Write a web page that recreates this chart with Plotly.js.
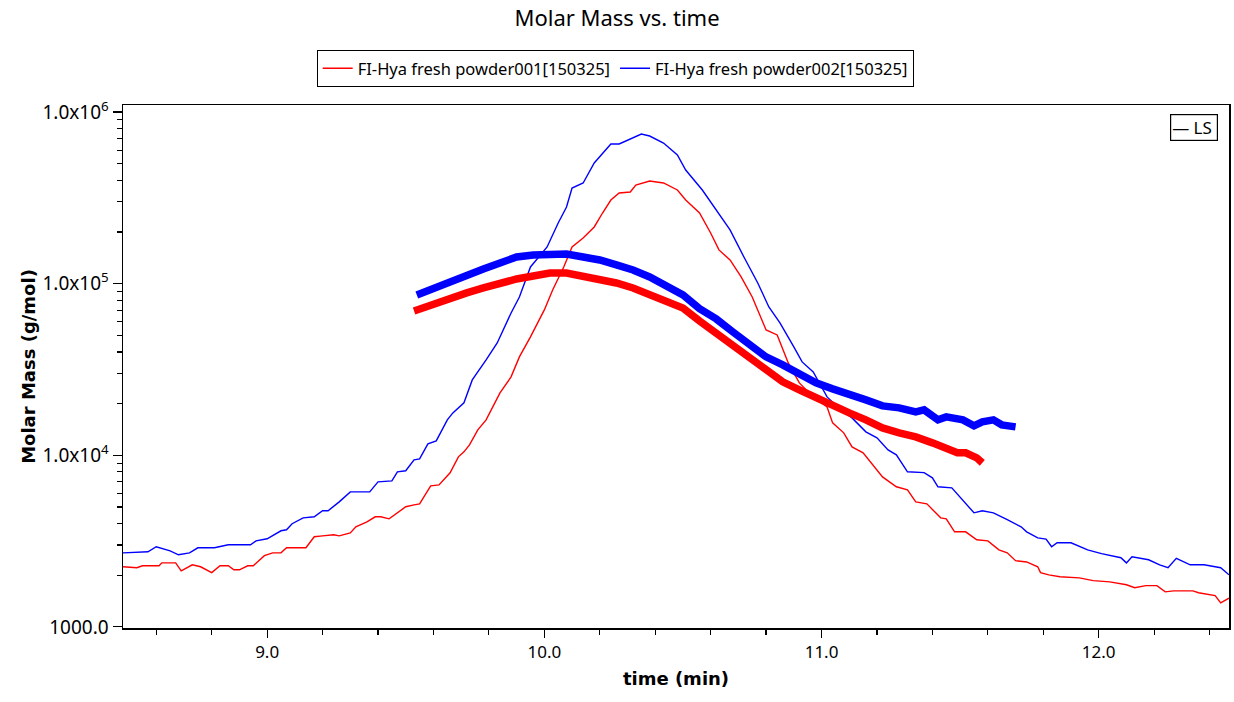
<!DOCTYPE html>
<html>
<head>
<meta charset="utf-8">
<script src="https://cdn.plot.ly/plotly-3.0.1.min.js"></script>
<style>html,body{margin:0;padding:0;background:#fff;}#chart{width:1234px;height:702px;}</style>
</head>
<body>
<div id="chart"></div>
<script>
// ---- Data (time in min, molar mass / LS signal on the g/mol log axis) ----
const seriesNames = ["FI-Hya fresh powder001[150325]", "FI-Hya fresh powder002[150325]"];

// LS detector trace, sample 001 (red, thin)
const lsTime001 = [8.48,8.53,8.55,8.61,8.62,8.67,8.69,8.73,8.76,8.80,8.83,8.86,8.88,8.90,8.93,8.95,8.99,9.02,9.05,9.07,9.14,9.17,9.20,9.24,9.26,9.30,9.32,9.36,9.39,9.41,9.44,9.47,9.50,9.53,9.55,9.59,9.62,9.66,9.69,9.71,9.73,9.76,9.79,9.84,9.88,9.91,9.95,10.00,10.03,10.07,10.10,10.14,10.18,10.21,10.24,10.27,10.31,10.33,10.38,10.43,10.48,10.51,10.56,10.60,10.63,10.67,10.71,10.75,10.78,10.80,10.84,10.88,10.92,10.97,11.02,11.04,11.08,11.11,11.15,11.19,11.22,11.27,11.31,11.34,11.38,11.43,11.45,11.48,11.52,11.56,11.60,11.64,11.67,11.70,11.74,11.78,11.79,11.82,11.86,11.93,11.98,12.04,12.10,12.13,12.17,12.21,12.24,12.27,12.34,12.36,12.42,12.44,12.47];
const lsValue001 = [2240,2210,2270,2270,2360,2360,2120,2300,2240,2070,2270,2270,2150,2150,2270,2270,2600,2700,2700,2890,2890,3350,3390,3440,3390,3530,3830,4090,4380,4380,4260,4620,5010,5140,5210,6630,6720,7900,9790,10470,11500,14060,16080,23090,28620,37430,48940,70290,91900,125100,163600,184600,213900,258000,307200,337500,342000,375700,396300,386000,351300,307200,258000,197400,157200,137400,109400,83650,64000,53740,50250,34530,26410,21880,19130,15440,13510,11190,10330,8560,7480,6550,6290,5350,5210,4320,4260,3580,3580,3220,3170,2810,2700,2430,2390,2240,2070,2010,1960,1930,1860,1830,1760,1690,1740,1740,1600,1620,1620,1580,1520,1380,1470];

// LS detector trace, sample 002 (blue, thin)
const lsTime002 = [8.48,8.57,8.60,8.65,8.68,8.72,8.75,8.81,8.86,8.94,8.96,9.00,9.05,9.07,9.09,9.13,9.17,9.20,9.22,9.26,9.30,9.37,9.40,9.45,9.47,9.50,9.53,9.55,9.58,9.61,9.65,9.67,9.71,9.74,9.79,9.83,9.88,9.91,9.95,10.01,10.05,10.08,10.10,10.14,10.18,10.23,10.24,10.27,10.30,10.35,10.38,10.43,10.48,10.51,10.57,10.62,10.67,10.72,10.77,10.81,10.85,10.90,10.93,10.97,11.02,11.07,11.11,11.16,11.20,11.24,11.27,11.31,11.37,11.40,11.42,11.47,11.51,11.55,11.58,11.62,11.67,11.72,11.74,11.78,11.81,11.83,11.85,11.90,11.96,12.01,12.08,12.10,12.12,12.18,12.22,12.25,12.28,12.33,12.38,12.44,12.47];
const lsValue002 = [2700,2740,2930,2770,2630,2700,2890,2890,3010,3010,3170,3260,3630,3680,3990,4320,4380,4750,4750,5350,6120,6120,7000,7090,8010,8120,9400,9520,11650,12130,16080,17660,20200,27490,35940,45140,67500,83650,125100,163600,225700,279700,360900,386000,504700,625700,651300,651300,687000,744700,724900,660000,561800,459400,351300,268700,205500,143000,100900,73150,59030,42790,34990,30600,21880,18380,16510,13690,12630,10750,10050,8010,7920,7390,6550,6460,5500,4620,4750,4620,4210,3830,3580,3300,3250,2930,3090,3090,2810,2670,2530,2360,2560,2460,2300,2210,2510,2300,2300,2210,2010];

// Molar mass, sample 001 (red, thick)
const mmTime001 = [9.53,9.60,9.66,9.72,9.78,9.84,9.90,9.96,10.02,10.08,10.14,10.20,10.26,10.32,10.38,10.44,10.50,10.56,10.62,10.68,10.74,10.80,10.86,10.92,10.98,11.04,11.10,11.16,11.22,11.28,11.34,11.40,11.45,11.49,11.52,11.56,11.58];
const mmValue001 = [69340,76180,83650,88290,94400,100900,106500,110900,115400,115400,110900,106500,100900,94400,85950,78200,72200,60650,51640,43950,36930,31440,26770,24040,21590,19130,17660,16080,14440,13510,12800,11810,11040,10330,10330,9660,9030];

// Molar mass, sample 002 (blue, thick)
const mmTime002 = [9.54,9.60,9.66,9.72,9.78,9.84,9.90,9.96,10.02,10.08,10.14,10.20,10.26,10.32,10.38,10.44,10.50,10.56,10.62,10.68,10.74,10.80,10.86,10.92,10.98,11.04,11.10,11.16,11.22,11.28,11.34,11.37,11.42,11.45,11.51,11.55,11.58,11.62,11.65,11.70];
const mmValue002 = [85950,94400,102300,112400,121800,132000,143000,147000,148900,148900,143000,137400,128500,120200,109400,98300,85950,71500,62300,52330,43950,37430,33610,29400,26410,24360,22790,21030,19400,18880,17890,18380,16080,16730,16080,14830,15650,16080,15040,14640];

// Tick labels
const xTickVals = [9, 10, 11, 12];
const xTickText = ["9.0", "10.0", "11.0", "12.0"];
const yTickVals = [1000, 10000, 100000, 1000000];
const yTickText = ["1000.0", "1.0x10<sup>4</sup>", "1.0x10<sup>5</sup>", "1.0x10<sup>6</sup>"];
const xMinorVals = [8.6, 8.8, 9.2, 9.4, 9.6, 9.8, 10.2, 10.4, 10.6, 10.8, 11.2, 11.4, 11.6, 11.8, 12.2, 12.4];
const yMinorMultipliers = [2, 3, 4, 5, 6, 7, 8, 9];
const yDecades = [1000, 10000, 100000];
const yMinorVals = [];
yDecades.forEach(d => yMinorMultipliers.forEach(m => yMinorVals.push(d * m)));

const RED = "#ff0000", BLUE = "#0000ff";
const FONT = "Noto Sans, Open Sans, sans-serif";
const BOLDFONT = "DejaVu Sans, sans-serif";

const traces = [
  {x: lsTime001, y: lsValue001, type: "scatter", mode: "lines", name: seriesNames[0],
   line: {color: RED, width: 1.4}, showlegend: true},
  {x: lsTime002, y: lsValue002, type: "scatter", mode: "lines", name: seriesNames[1],
   line: {color: BLUE, width: 1.4}, showlegend: true},
  {x: mmTime001, y: mmValue001, type: "scatter", mode: "lines", name: seriesNames[0] + " MM",
   line: {color: RED, width: 7.5}, showlegend: false},
  {x: mmTime002, y: mmValue002, type: "scatter", mode: "lines", name: seriesNames[1] + " MM",
   line: {color: BLUE, width: 7.5}, showlegend: false}
];

const layout = {
  width: 1234, height: 702,
  paper_bgcolor: "#ffffff", plot_bgcolor: "#ffffff",
  margin: {l: 123, r: 5, t: 105, b: 74, pad: 0},
  font: {family: FONT, color: "#000", size: 15},
  title: {text: "Molar Mass vs. time", x: 0.5, xref: "container", xanchor: "center",
          y: 1 - 18/702, yref: "container", yanchor: "middle",
          font: {family: FONT, size: 22, color: "#000"}},
  showlegend: true,
  legend: {orientation: "h", x: 0.445, xanchor: "center", y: 1.105, yanchor: "top",
           bordercolor: "#000", borderwidth: 1, bgcolor: "#fff",
           font: {family: FONT, size: 16.5, color: "#000"}, itemwidth: 30, tracegroupgap: 0},
  xaxis: {
    type: "linear", range: [8.48, 12.47],
    showgrid: false, zeroline: false,
    showline: true, linecolor: "#000", linewidth: 1.5, mirror: true,
    ticks: "outside", ticklen: 8, tickwidth: 1.2, tickcolor: "#000",
    tickmode: "array", tickvals: xTickVals, ticktext: xTickText,
    tickfont: {family: FONT, size: 17, color: "#000"},
    minor: {tickmode: "array", tickvals: xMinorVals, ticks: "outside", ticklen: 5, tickwidth: 1.2, tickcolor: "#000", showgrid: false},
    title: {text: "<b>time (min)</b>", standoff: 10, font: {family: BOLDFONT, size: 18, color: "#000"}}
  },
  yaxis: {
    type: "log", range: [Math.log10(985), 6.041],
    showgrid: false, zeroline: false,
    showline: true, linecolor: "#000", linewidth: 1.5, mirror: true,
    ticks: "outside", ticklen: 9, tickwidth: 1.2, tickcolor: "#000",
    tickmode: "array", tickvals: yTickVals, ticktext: yTickText,
    tickfont: {family: FONT, size: 19, color: "#000"},
    minor: {tickmode: "array", tickvals: yMinorVals, ticks: "outside", ticklen: 5, tickwidth: 1.2, tickcolor: "#000", showgrid: false},
    title: {text: "<b>Molar Mass (g/mol)</b>", standoff: 2, font: {family: BOLDFONT, size: 18, color: "#000"}}
  },
  annotations: [
    {text: "\u2014 LS ", xref: "paper", yref: "paper", x: 0.990, y: 0.983, xanchor: "right", yanchor: "top",
     showarrow: false, bordercolor: "#000", borderwidth: 1.2, borderpad: 1, bgcolor: "#fff",
     font: {family: FONT, size: 17, color: "#000"}}
  ]
};

Plotly.newPlot("chart", traces, layout, {displayModeBar: false, staticPlot: true});
</script>
</body>
</html>
